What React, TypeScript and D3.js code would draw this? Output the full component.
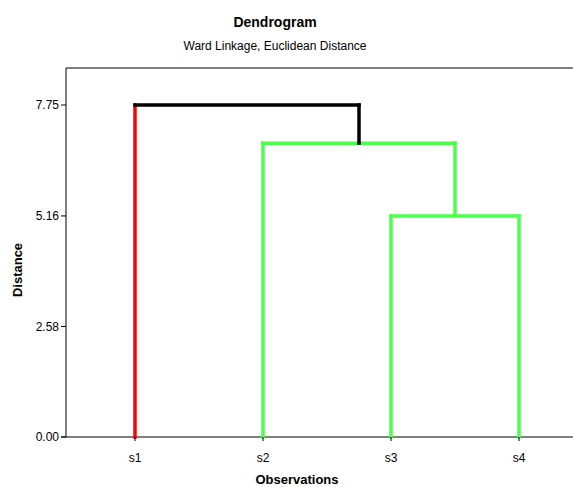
import React from "react";
import * as d3 from "d3";

// observations along the x axis
const observations = ["s1", "s2", "s3", "s4"];
// y tick values (distance)
const yTicks = [0.0, 2.58, 5.16, 7.75];
// merges: left child, right child, distance, new node id
const mergeLeft = ["s3", "s2", "s1"];
const mergeRight = ["s4", "c1", "c2"];
const mergeHeight = [5.16, 6.86, 7.75];
const mergeId = ["c1", "c2", "c3"];
// colour of each merge's horizontal bar and each node's vertical leg
const barColor = ["#4cff4c", "#4cff4c", "#000000"];
const legColor: Record<string, string> = {
  s1: "#ff0000",
  s2: "#4cff4c",
  s3: "#4cff4c",
  s4: "#4cff4c",
  c1: "#4cff4c",
  c2: "#000000",
};

const width = 573;
const height = 487;
const marginLeft = 66;
const marginTop = 68;
const plotBottom = 437;
const plotRight = 588;
const font = "'Liberation Sans', Arial, sans-serif";

const App: React.FC = () => {
  const x = d3
    .scalePoint<string>()
    .domain(observations)
    .range([marginLeft, plotRight])
    .padding(0.539);

  const y = d3.scaleLinear().domain([0, 7.75]).range([plotBottom, 105]);

  // node positions
  const pos: Record<string, { x: number; h: number }> = {};
  observations.forEach((o) => (pos[o] = { x: x(o) as number, h: 0 }));
  mergeId.forEach((id, i) => {
    const a = pos[mergeLeft[i]];
    const b = pos[mergeRight[i]];
    pos[id] = { x: (a.x + b.x) / 2, h: mergeHeight[i] };
  });

  const segs: { d: string; c: string }[] = [];
  mergeId.forEach((id, i) => {
    const h = mergeHeight[i];
    [mergeLeft[i], mergeRight[i]].forEach((child) => {
      const p = d3.path();
      p.moveTo(pos[child].x, y(pos[child].h));
      p.lineTo(pos[child].x, y(h));
      segs.push({ d: p.toString(), c: legColor[child] });
    });
    const p = d3.path();
    p.moveTo(pos[mergeLeft[i]].x, y(h));
    p.lineTo(pos[mergeRight[i]].x, y(h));
    segs.push({ d: p.toString(), c: barColor[i] });
  });

  return (
    <svg
      width={width}
      height={height}
      style={{ position: "absolute", left: 0, top: 0, background: "#fff" }}
    >
      <text x={275} y={27} textAnchor="middle" fontFamily={font} fontSize={14} fontWeight="bold">
        Dendrogram
      </text>
      <text x={275} y={50} textAnchor="middle" fontFamily={font} fontSize={12}>
        Ward Linkage, Euclidean Distance
      </text>

      {/* frame */}
      <line x1={marginLeft} x2={width} y1={marginTop} y2={marginTop} stroke="#000" />
      <line x1={marginLeft} x2={marginLeft} y1={marginTop} y2={plotBottom} stroke="#000" />
      <line x1={marginLeft - 5} x2={width} y1={plotBottom} y2={plotBottom} stroke="#000" />

      {/* links */}
      {segs.map((s, i) => (
        <path key={i} d={s.d} stroke={s.c} strokeWidth={3.5} fill="none" strokeLinecap="square" />
      ))}

      {/* y axis */}
      {yTicks.map((t) => (
        <g key={t} transform={`translate(0,${y(t)})`}>
          <line x1={marginLeft - 5} x2={marginLeft} stroke="#000" />
          <text x={marginLeft - 7} dy="0.35em" textAnchor="end" fontFamily={font} fontSize={12}>
            {t.toFixed(2)}
          </text>
        </g>
      ))}

      {/* x axis */}
      {observations.map((o) => (
        <g key={o} transform={`translate(${x(o)},${plotBottom})`}>
          <line y1={0} y2={4} stroke="#000" />
          <text y={25} textAnchor="middle" fontFamily={font} fontSize={12}>
            {o}
          </text>
        </g>
      ))}

      <text x={297} y={484} textAnchor="middle" fontFamily={font} fontSize={13} fontWeight="bold">
        Observations
      </text>
      <text
        transform="translate(22,270) rotate(-90)"
        textAnchor="middle"
        fontFamily={font}
        fontSize={13}
        fontWeight="bold"
      >
        Distance
      </text>
    </svg>
  );
};

export default App;
